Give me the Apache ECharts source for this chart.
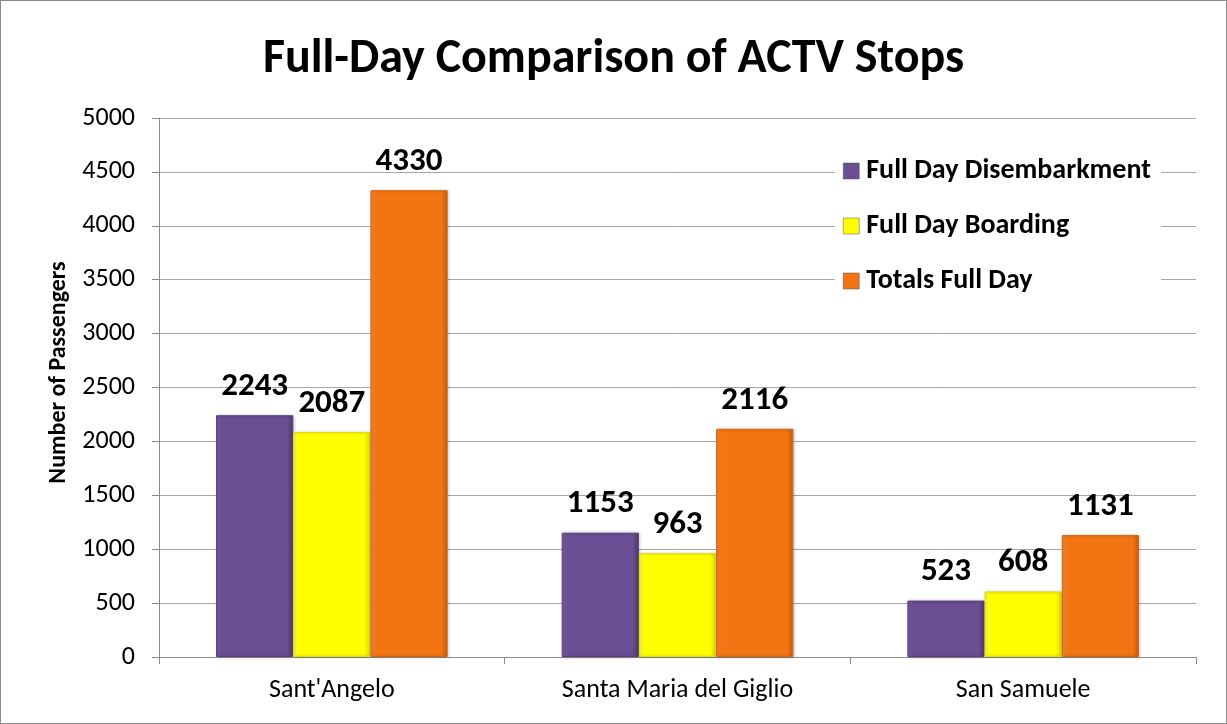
<!DOCTYPE html>
<html><head><meta charset="utf-8">
<script src="https://cdn.jsdelivr.net/npm/echarts@6/dist/echarts.min.js"></script>
<style>html,body{margin:0;padding:0;background:#fff}#c{width:1227px;height:724px;box-sizing:border-box;border:1px solid #8c8c8c}</style>
</head><body><div id="c"></div>
<script>
const categories = ["Sant'Angelo", "Santa Maria del Giglio", "San Samuele"];
const disembark = [2243, 1153, 523];
const boarding = [2087, 963, 608];
const totals = [4330, 2116, 1131];
const seriesNames = ["Full Day Disembarkment", "Full Day Boarding", "Totals Full Day"];
const yTicks = {min: 0, max: 5000, interval: 500};

const FONT = "Carlito, Lato, 'Open Sans', sans-serif";
function grad(top, mid, bot) {
  return new echarts.graphic.LinearGradient(0, 0, 1, 0, [
    {offset: 0, color: top}, {offset: 0.08, color: mid}, {offset: 0.92, color: mid}, {offset: 1, color: bot}
  ]);
}
const styles = [
  {color: grad('#7a5ca3', '#6a4d92', '#50386f'), borderColor: '#5a4080'},
  {color: grad('#ffff50', '#ffff00', '#d8d800'), borderColor: '#e0e000'},
  {color: grad('#f78a3a', '#f27412', '#c95c08'), borderColor: '#d8650e'}
];
const legendColors = ['#6a4d92', '#ffff00', '#f27412'];
const data = [disembark, boarding, totals];

const chart = echarts.init(document.getElementById('c'), null, {renderer: 'canvas'});
chart.setOption({
  animation: false,
  textStyle: {fontFamily: FONT},
  title: {text: 'Full-Day Comparison of ACTV Stops', left: 'center', top: 30,
    textStyle: {fontFamily: FONT, fontWeight: 'bold', fontSize: 48, color: '#000'}},
  grid: {left: 158, right: 30, top: 117, bottom: 66},
  legend: {
    orient: 'vertical', left: 834, top: 150, itemGap: 27, itemWidth: 16, itemHeight: 16,
    backgroundColor: '#fff', padding: [6, 10, 6, 8],
    icon: 'rect',
    textStyle: {fontFamily: FONT, fontWeight: 'bold', fontSize: 28, color: '#000', padding: [0, 0, 0, 2]},
    data: seriesNames.map((n, i) => ({name: n, itemStyle: {color: legendColors[i], borderColor: '#555', borderWidth: 0.5}}))
  },
  xAxis: {
    type: 'category', data: categories,
    axisLine: {lineStyle: {color: '#8c8c8c', width: 1}},
    axisTick: {show: true, length: 7, lineStyle: {color: '#8c8c8c'}},
    axisLabel: {fontFamily: FONT, fontSize: 26, color: '#000', margin: 20}
  },
  yAxis: {
    type: 'value', min: yTicks.min, max: yTicks.max, interval: yTicks.interval,
    name: 'Number of Passengers', nameLocation: 'middle', nameGap: 84, nameRotate: 90,
    nameTextStyle: {fontFamily: FONT, fontWeight: 'bold', fontSize: 24, color: '#000', padding: [0, 0, 0, 30]},
    axisLine: {show: true, lineStyle: {color: '#8c8c8c'}},
    axisTick: {show: true, length: 7, lineStyle: {color: '#8c8c8c'}},
    axisLabel: {fontFamily: FONT, fontSize: 26, color: '#000', margin: 24, formatter: v => String(v)},
    splitLine: {lineStyle: {color: '#a6a6a6', width: 1}}
  },
  series: seriesNames.map((n, i) => ({
    name: n, type: 'bar', data: data[i], barGap: '0%', barCategoryGap: '33%',
    itemStyle: {color: styles[i].color, borderColor: styles[i].borderColor, borderWidth: 1,
      shadowColor: 'rgba(0,0,0,0.25)', shadowBlur: 3, shadowOffsetX: 1},
    label: {show: true, position: 'top', distance: 12, fontFamily: FONT, fontWeight: 'bold', fontSize: 33, color: '#000'}
  }))
});
</script></body></html>
